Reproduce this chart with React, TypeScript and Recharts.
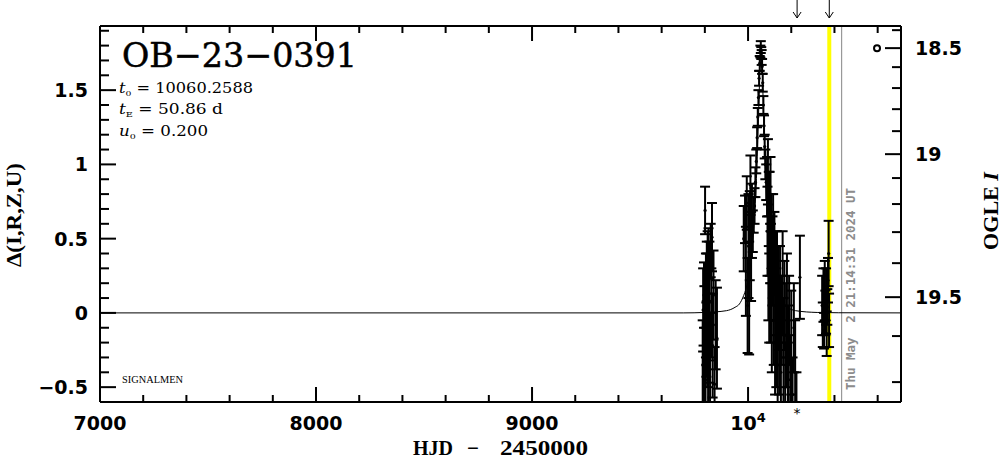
import React from "react";
import {
  ComposedChart,
  XAxis,
  YAxis,
  Line,
  Scatter,
  ErrorBar,
  ReferenceLine,
  ReferenceDot,
} from "recharts";

// photometry: [HJD - 2450000, delta mag, error]
const season2022: [number, number, number][] = [
  [9790, -0.35, 0.3], [9792, 0.02, 0.28], [9794, -0.52, 0.3], [9796, 0.12, 0.22],
  [9798, -0.22, 0.4], [9801, 0.69, 0.16], [9803, -0.45, 0.35], [9805, 0.05, 0.35],
  [9807, -0.18, 0.25], [9809, 0.28, 0.2], [9811, -0.05, 0.45], [9813, 0.2, 0.35],
  [9815, -0.4, 0.3], [9817, 0.35, 0.22], [9819, -0.12, 0.35], [9821, 0.08, 0.4],
  [9824, -0.3, 0.3], [9827, 0.42, 0.18], [9830, 0.0, 0.3], [9833, 0.51, 0.23],
  [9836, -0.22, 0.35], [9840, 0.12, 0.3], [9845, -0.48, 0.25], [9850, -0.08, 0.3],
  [9856, -0.17, 0.34],
];

const season2023rise: [number, number, number][] = [
  [9980, 0.5, 0.22], [9986, 0.63, 0.16], [9990, 0.28, 0.3], [9994, 0.74, 0.18],
  [9998, 0.05, 0.32], [10002, 0.45, 0.35], [10005, 0.1, 0.38], [10008, 0.52, 0.3],
  [10011, 0.86, 0.2], [10014, 0.38, 0.3], [10018, 0.62, 0.25], [10022, 0.55, 0.14],
  [10026, 0.66, 0.12],
];

const season2023peak: [number, number, number][] = [
  [10030, 0.72, 0.12], [10034, 0.88, 0.1], [10038, 1.02, 0.08], [10042, 1.18, 0.07],
  [10045, 1.32, 0.06], [10048, 1.45, 0.05], [10051, 1.58, 0.05], [10054, 1.68, 0.05],
  [10057, 1.76, 0.04], [10059, 1.79, 0.04], [10061, 1.75, 0.04], [10063, 1.72, 0.05],
  [10065, 1.66, 0.05], [10068, 1.55, 0.06], [10071, 1.4, 0.06], [10074, 1.26, 0.07],
  [10077, 1.12, 0.08], [10080, 1.0, 0.1], [10084, 0.88, 0.12],
];

const season2023tail: [number, number, number][] = [
  [10088, 0.85, 0.2], [10090, 0.55, 0.3], [10092, 0.95, 0.22], [10094, 0.3, 0.35],
  [10096, 0.7, 0.25], [10098, 0.1, 0.3], [10100, 0.6, 0.35], [10102, 0.4, 0.2],
  [10104, 0.8, 0.25], [10106, 0.2, 0.4], [10108, 0.5, 0.3], [10110, -0.05, 0.35],
  [10113, 0.35, 0.3], [10116, 0.55, 0.25], [10119, 0.05, 0.4], [10122, 0.4, 0.28],
  [10125, -0.2, 0.35], [10128, 0.25, 0.3], [10131, -0.1, 0.4], [10134, 0.2, 0.35],
  [10137, -0.35, 0.3], [10140, 0.1, 0.35], [10144, -0.15, 0.4], [10148, 0.15, 0.3],
  [10152, -0.4, 0.35], [10156, -0.05, 0.3], [10160, 0.2, 0.35], [10164, -0.3, 0.4],
  [10168, 0.05, 0.3], [10172, -0.5, 0.3], [10176, -0.15, 0.35], [10180, 0.1, 0.3],
  [10185, -0.35, 0.4], [10190, -0.05, 0.3], [10195, -0.45, 0.3], [10200, -0.2, 0.35],
  [10206, -0.55, 0.25], [10212, -0.1, 0.3], [10218, -0.4, 0.35], [10224, -0.6, 0.2],
  [10240, 0.24, 0.28],
];

const season2024: [number, number, number][] = [
  [10343, 0.05, 0.2], [10346, -0.08, 0.15], [10349, 0.12, 0.18], [10352, -0.12, 0.12],
  [10355, 0.15, 0.2], [10358, 0.0, 0.15], [10361, 0.08, 0.22], [10364, -0.14, 0.15],
  [10367, 0.04, 0.12], [10370, 0.22, 0.15], [10373, 0.4, 0.22], [10375, -0.05, 0.18],
];

// fitted model curve
const modelT = [
  7000, 9700, 9800, 9900, 9940, 9960, 9980, 9990, 10000, 10010, 10020, 10028, 10035,
  10040, 10045, 10050, 10054, 10057, 10060.26, 10063.5, 10066.5, 10070.5, 10075.5,
  10080.5, 10085.5, 10092.5, 10100.5, 10110.5, 10120.5, 10130.5, 10140.5, 10160.5,
  10180.5, 10220, 10320, 10420, 10708,
];
const modelD = [
  0, 0, 0.003, 0.015, 0.038, 0.06, 0.118, 0.16, 0.223, 0.31, 0.449, 0.6, 0.787,
  0.95, 1.161, 1.4, 1.6, 1.71, 1.763, 1.71, 1.6, 1.4, 1.161,
  0.95, 0.787, 0.6, 0.449, 0.31, 0.223, 0.16, 0.118, 0.06,
  0.038, 0.015, 0.003, 0.001, 0,
];

const xTicks = [
  7000, 7200, 7400, 7600, 7800, 8000, 8200, 8400, 8600, 8800, 9000, 9200, 9400, 9600,
  9800, 10000, 10200, 10400, 10600,
];
const yTicks = [
  -0.5, -0.4, -0.3, -0.2, -0.1, 0, 0.1, 0.2, 0.3, 0.4, 0.5, 0.6, 0.7, 0.8, 0.9, 1,
  1.1, 1.2, 1.3, 1.4, 1.5, 1.6, 1.7, 1.8, 1.9,
];
// OGLE I magnitude ticks and where they sit on the delta scale
const ogleMag = [18.4, 18.5, 18.6, 18.7, 18.8, 18.9, 19, 19.1, 19.2, 19.3, 19.4, 19.5, 19.6, 19.7];
const oglePos = [1.904, 1.783, 1.655, 1.514, 1.372, 1.224, 1.069, 0.908, 0.733, 0.544, 0.335, 0.106, -0.156, -0.466];
const ogleLabeled = [18.5, 19, 19.5];

const arrowT = [10227, 10376];
const nowT = 10376;
const plotDateT = 10433;
const baseline = { t: 10597, d: 1.783 };

const X_DOMAIN: [number, number] = [7000, 10708];
const Y_DOMAIN: [number, number] = [-0.6, 1.932];

const toRows = (rows: [number, number, number][]) =>
  rows.map(([t, d, e]) => ({ t, d, e }));
const obs = [
  ...toRows(season2022),
  ...toRows(season2023rise),
  ...toRows(season2023peak),
  ...toRows(season2023tail),
  ...toRows(season2024),
];
const model = modelT.map((t, i) => ({ t, d: modelD[i] }));

const tickFont = {
  fontFamily: "'DejaVu Sans', sans-serif",
  fontWeight: 700,
  fontSize: 19,
  fill: "#000",
};
const titleFont = "'Liberation Serif', 'DejaVu Serif', serif";

const fmt = (v: number) => String(v).replace("-", "\u2212");

const BottomTick = (p: any) => {
  const { x, y, payload } = p;
  const v = payload.value;
  const major = v % 1000 === 0;
  return (
    <g>
      <line x1={x} x2={x} y1={y} y2={y - (major ? 15 : 7)} stroke="#000" strokeWidth={2} />
      {major &&
        (v === 10000 ? (
          <text x={x} y={y + 28} textAnchor="middle" style={tickFont}>
            10<tspan dy={-8} fontSize={13}>4</tspan>
          </text>
        ) : (
          <text x={x} y={y + 28} textAnchor="middle" style={tickFont}>
            {v}
          </text>
        ))}
    </g>
  );
};

const TopTick = (p: any) => {
  const { x, y, payload } = p;
  const major = payload.value % 1000 === 0;
  return <line x1={x} x2={x} y1={y} y2={y + (major ? 15 : 7)} stroke="#000" strokeWidth={2} />;
};

const LeftTick = (p: any) => {
  const { x, y, payload } = p;
  const v = payload.value;
  const major = Math.abs(v * 2 - Math.round(v * 2)) < 1e-6;
  return (
    <g>
      <line x1={x} x2={x + (major ? 16 : 9)} y1={y} y2={y} stroke="#000" strokeWidth={2} />
      {major && (
        <text x={x - 12} y={y + 7} textAnchor="end" style={tickFont}>
          {fmt(v)}
        </text>
      )}
    </g>
  );
};

const RightTick = (p: any) => {
  const { x, y, payload } = p;
  const i = oglePos.indexOf(payload.value);
  const mag = ogleMag[i];
  const major = ogleLabeled.includes(mag);
  return (
    <g>
      <line x1={x} x2={x - (major ? 16 : 9)} y1={y} y2={y} stroke="#000" strokeWidth={2} />
      {major && (
        <text x={x + 14} y={y + 7} textAnchor="start" style={tickFont}>
          {mag}
        </text>
      )}
    </g>
  );
};

const Dot = (p: any) => <circle cx={p.cx} cy={p.cy} r={1.6} fill="#000" />;

const Arrow = (p: any) => {
  const { cx, cy } = p;
  return (
    <g stroke="#000" strokeWidth={1} fill="none">
      <line x1={cx} x2={cx} y1={cy - 26} y2={cy - 8} />
      <polyline points={`${cx - 4},${cy - 14} ${cx},${cy - 8} ${cx + 4},${cy - 14}`} />
    </g>
  );
};

const Star = (p: any) => (
  <text x={p.cx} y={p.cy + 16} textAnchor="middle" fontFamily="'DejaVu Sans'" fontSize={14} fill="#000">
    *
  </text>
);

export default function App() {
  return (
    <div style={{ position: "absolute", left: 0, top: 0, width: 1004, height: 459, background: "#fff" }}>
      <style>{`.recharts-errorBars { clip-path: url(#plotClip); }`}</style>
      <ComposedChart width={1004} height={459} margin={{ top: 16, right: 43, bottom: 27, left: 40 }}>
        <XAxis
          xAxisId="hjd"
          type="number"
          dataKey="t"
          domain={X_DOMAIN}
          ticks={xTicks}
          interval={0}
          height={30}
          tickSize={0}
          tickMargin={0}
          tickLine={false}
          tick={BottomTick}
          axisLine={{ stroke: "#000", strokeWidth: 2 }}
          allowDataOverflow
        />
        <XAxis
          xAxisId="hjdTop"
          orientation="top"
          type="number"
          dataKey="t"
          domain={X_DOMAIN}
          ticks={xTicks}
          interval={0}
          height={10}
          tickSize={0}
          tickMargin={0}
          tickLine={false}
          tick={TopTick}
          axisLine={{ stroke: "#000", strokeWidth: 2 }}
          allowDataOverflow
        />
        <YAxis
          yAxisId="delta"
          type="number"
          domain={Y_DOMAIN}
          ticks={yTicks}
          interval={0}
          width={60}
          tickSize={0}
          tickMargin={0}
          tickLine={false}
          tick={LeftTick}
          axisLine={{ stroke: "#000", strokeWidth: 2 }}
          allowDataOverflow
        />
        <YAxis
          yAxisId="ogle"
          orientation="right"
          type="number"
          domain={Y_DOMAIN}
          ticks={oglePos}
          interval={0}
          width={60}
          tickSize={0}
          tickMargin={0}
          tickLine={false}
          tick={RightTick}
          axisLine={{ stroke: "#000", strokeWidth: 2 }}
          allowDataOverflow
        />
        <ReferenceLine xAxisId="hjd" yAxisId="delta" x={nowT} stroke="#ffff00" strokeWidth={4} />
        <ReferenceLine xAxisId="hjd" yAxisId="delta" x={plotDateT} stroke="#999" strokeWidth={1.2} />
        <Line
          xAxisId="hjd"
          yAxisId="delta"
          data={model}
          dataKey="d"
          type="monotone"
          stroke="#000"
          strokeWidth={1}
          dot={false}
          isAnimationActive={false}
        />
        <Scatter
          xAxisId="hjd"
          yAxisId="delta"
          data={obs}
          dataKey="d"
          shape={Dot}
          isAnimationActive={false}
        >
          <ErrorBar dataKey="e" direction="y" width={5} stroke="#000" strokeWidth={2} />
        </Scatter>
        {arrowT.map((t) => (
          <ReferenceDot key={t} xAxisId="hjd" yAxisId="delta" x={t} y={Y_DOMAIN[1]} ifOverflow="visible" shape={Arrow} />
        ))}
        <ReferenceDot xAxisId="hjd" yAxisId="delta" x={arrowT[0]} y={Y_DOMAIN[0]} ifOverflow="visible" shape={Star} />
        <ReferenceDot
          xAxisId="hjd"
          yAxisId="ogle"
          x={baseline.t}
          y={baseline.d}
          r={3}
          fill="#fff"
          stroke="#000"
          strokeWidth={2}
          ifOverflow="visible"
        />
      </ComposedChart>
      <svg width={1004} height={459} style={{ position: "absolute", left: 0, top: 0, pointerEvents: "none" }}>
        <defs>
          <clipPath id="plotClip">
            <rect x={100} y={26} width={801} height={376} />
          </clipPath>
        </defs>
        <text
          x={122}
          y={67}
          fontFamily="'DejaVu Serif', serif"
          fontSize={34}
          stroke="#000"
          strokeWidth={0.5}
          textLength={235}
          lengthAdjust="spacingAndGlyphs"
        >
          OB{"\u2212"}23{"\u2212"}0391
        </text>
        <g fontFamily="'DejaVu Serif', serif" fontSize={14} fill="#000">
          <text x={119} y={93} textLength={134} lengthAdjust="spacingAndGlyphs">
            <tspan fontStyle="italic">t</tspan>
            <tspan fontSize={8} dy={3}>0</tspan>
            <tspan dy={-3}> = 10060.2588</tspan>
          </text>
          <text x={119} y={114} textLength={104} lengthAdjust="spacingAndGlyphs">
            <tspan fontStyle="italic">t</tspan>
            <tspan fontSize={8} dy={3}>E</tspan>
            <tspan dy={-3}> = 50.86 d</tspan>
          </text>
          <text x={119} y={136} textLength={89} lengthAdjust="spacingAndGlyphs">
            <tspan fontStyle="italic">u</tspan>
            <tspan fontSize={8} dy={3}>0</tspan>
            <tspan dy={-3}> = 0.200</tspan>
          </text>
        </g>
        <text x={122} y={383} fontFamily="'Liberation Serif', serif" fontSize={10.5} textLength={61} lengthAdjust="spacingAndGlyphs">
          SIGNALMEN
        </text>
        <g fontFamily={titleFont} fontWeight={700} fontSize={21} fill="#000">
          <text x={413} y={455} textLength={40} lengthAdjust="spacingAndGlyphs">HJD</text>
          <text x={473} y={455} textAnchor="middle">{"\u2212"}</text>
          <text x={500} y={455} textLength={88} lengthAdjust="spacingAndGlyphs">2450000</text>
          <text
            x={21}
            y={215}
            textAnchor="middle"
            transform="rotate(-90 21 215)"
            textLength={104}
            lengthAdjust="spacingAndGlyphs"
          >
            {"\u0394(I,R,Z,U)"}
          </text>
          <text
            x={998}
            y={211}
            textAnchor="middle"
            transform="rotate(-90 998 211)"
            textLength={78}
            lengthAdjust="spacingAndGlyphs"
          >
            OGLE <tspan fontStyle="italic">I</tspan>
          </text>
        </g>
        <text
          x={855}
          y={390}
          transform="rotate(-90 855 390)"
          fontFamily="'DejaVu Sans Mono', monospace"
          fontWeight={700}
          fontSize={12.5}
          fill="#8c8c8c"
          style={{ whiteSpace: "pre" }}
          textLength={202}
          lengthAdjust="spacingAndGlyphs"
        >
          Thu May  2 21:14:31 2024 UT
        </text>
      </svg>
    </div>
  );
}
